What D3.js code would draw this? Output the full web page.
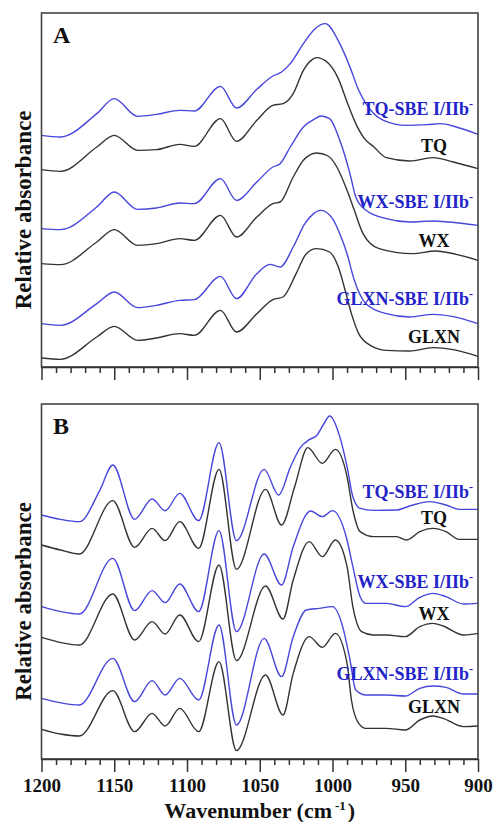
<!DOCTYPE html>
<html>
<head>
<meta charset="utf-8">
<script src="https://cdn.jsdelivr.net/npm/d3@7"></script>
<style>
    body { margin: 0; background: #fff; }
    svg text { font-family: "Liberation Serif", "Times New Roman", serif; font-weight: bold; }
</style>
</head>
<body>
<svg id="fig" width="493" height="822"></svg>
<script>
"use strict";

// ---- data (wavenumber cm-1, relative absorbance) ----

const xTicks = [1200, 1150, 1100, 1050, 1000, 950, 900];
const panelLetters = ["A", "B"];
const sampleNames = ["TQ", "WX", "GLXN"];
const sbeSuffix = "-SBE I/IIb";

// Panel A
const aTQSBE = [[1200,6.95],[1187,6.90],[1162,7.60],[1150,8.05],[1134,7.52],[1121,7.58],[1105,7.70],[1095,7.68],
    [1077,8.42],[1066,7.77],[1052,8.33],[1041,8.73],[1035,8.85],[1029,9.10],[1020,9.70],[1012,10.15],[1005,10.30],
    [995,9.70],[988,9.00],[982,8.30],[977,7.90],[965,7.40],[949,7.25],[935,7.27],[926,7.30],[915,7.20],[900,6.98]];
const aTQ = [[1200,5.92],[1187,5.87],[1162,6.60],[1150,6.95],[1134,6.50],[1121,6.52],[1105,6.68],[1095,6.62],
    [1077,7.45],[1066,6.77],[1052,7.40],[1041,7.85],[1034,7.90],[1027,8.20],[1020,8.90],[1014,9.22],[1011,9.28],
    [1003,9.12],[996,8.65],[990,7.95],[984,7.30],[978,6.85],[972,6.62],[963,6.28],[947,6.18],[931,6.28],[917,6.15],[900,5.95]];
const aWXSBE = [[1200,4.15],[1187,4.12],[1162,4.80],[1150,5.25],[1134,4.73],[1121,4.77],[1105,4.92],[1095,4.90],
    [1077,5.65],[1066,5.00],[1052,5.55],[1041,6.00],[1036,6.10],[1029,6.60],[1020,7.20],[1012,7.45],[1008,7.53],
    [1002,7.45],[995,6.80],[988,5.80],[984,5.10],[977,4.70],[963,4.45],[947,4.35],[931,4.38],[920,4.35],[900,4.25]];
const aWX = [[1200,3.10],[1187,3.07],[1162,3.75],[1150,4.12],[1134,3.65],[1121,3.70],[1105,3.85],[1095,3.80],
    [1077,4.55],[1066,3.90],[1052,4.50],[1041,4.90],[1036,4.95],[1027,5.70],[1020,6.20],[1011,6.42],[1003,6.33],
    [997,6.00],[990,5.30],[985,4.70],[979,4.00],[968,3.55],[945,3.40],[929,3.48],[915,3.38],[900,3.20]];
const aGLXNSBE = [[1200,1.30],[1187,1.25],[1162,1.90],[1150,2.25],[1134,1.78],[1121,1.85],[1105,2.00],[1095,2.02],
    [1077,2.72],[1066,2.05],[1052,2.80],[1043,3.08],[1036,3.00],[1027,3.60],[1019,4.30],[1013,4.60],[1008,4.70],
    [1000,4.45],[995,4.00],[990,3.40],[985,2.60],[977,1.90],[963,1.60],[947,1.50],[931,1.58],[918,1.52],[900,1.30]];
const aGLXN = [[1200,0.27],[1187,0.23],[1162,0.90],[1150,1.22],[1134,0.80],[1121,0.87],[1105,1.00],[1095,0.95],
    [1077,1.70],[1066,1.05],[1052,1.60],[1041,2.02],[1034,2.10],[1025,2.80],[1018,3.40],[1011,3.55],[1002,3.45],
    [996,3.00],[991,2.25],[987,1.60],[982,1.00],[974,0.65],[963,0.50],[947,0.48],[931,0.58],[917,0.52],[900,0.32]];

// Panel B
const bTQSBE = [[1200,7.32],[1187,7.19],[1174,7.12],[1160,8.05],[1151,8.82],[1136,7.19],[1124,7.80],[1115,7.45],
    [1105,7.97],[1092,7.15],[1078,9.49],[1066,6.55],[1047,8.69],[1037,7.92],[1029,8.75],[1022,9.35],[1016,9.58],
    [1011,9.70],[1006,10.05],[1002,10.29],[995,9.67],[990,8.77],[986,7.87],[981,7.52],[972,7.46],[956,7.47],
    [947,7.59],[933,7.72],[922,7.62],[913,7.49],[900,7.49]];
const bTQ = [[1200,6.42],[1187,6.27],[1174,6.15],[1151,7.75],[1136,6.35],[1124,6.92],[1115,6.55],[1105,7.12],
    [1092,6.32],[1078,8.69],[1066,5.69],[1046,8.09],[1035,7.02],[1026,8.17],[1017,9.34],[1007,8.87],[998,9.29],
    [990,8.47],[986,7.47],[981,6.82],[972,6.67],[956,6.67],[949,6.57],[940,6.82],[931,6.92],[922,6.82],[913,6.59],[900,6.59]];
const bWXSBE = [[1200,4.57],[1174,4.35],[1151,6.02],[1136,4.45],[1124,5.05],[1115,4.69],[1105,5.25],[1092,4.42],
    [1078,6.85],[1066,3.82],[1047,6.15],[1035,5.22],[1027,6.37],[1015,7.44],[1007,7.27],[1000,7.45],[990,6.57],
    [986,5.77],[981,4.87],[977,4.67],[963,4.67],[950,4.57],[940,4.85],[931,4.97],[922,4.87],[910,4.65],[900,4.67]];
const bWX = [[1200,3.65],[1174,3.42],[1151,4.95],[1136,3.57],[1124,4.12],[1115,3.75],[1105,4.32],[1092,3.52],
    [1078,5.82],[1066,2.95],[1046,5.19],[1034,4.20],[1027,5.37],[1016,6.52],[1007,6.07],[998,6.57],[990,5.77],
    [986,4.57],[980,3.82],[972,3.72],[963,3.72],[950,3.67],[940,3.97],[931,4.07],[924,3.99],[910,3.72],[900,3.77]];
const bGLXNSBE = [[1200,1.82],[1174,1.62],[1151,3.02],[1136,1.72],[1124,2.35],[1115,1.92],[1105,2.42],[1092,1.77],
    [1078,4.02],[1066,1.02],[1047,3.62],[1035,2.47],[1027,3.67],[1018,4.47],[1009,4.52],[1000,4.57],[993,3.97],
    [988,2.97],[984,2.07],[977,1.92],[963,1.92],[950,1.89],[940,2.12],[931,2.19],[922,2.15],[910,1.95],[900,1.95]];
const bGLXN = [[1200,0.89],[1187,0.75],[1174,0.69],[1151,2.05],[1136,0.82],[1124,1.37],[1115,0.99],[1105,1.52],
    [1092,0.82],[1078,2.92],[1066,0.25],[1046,2.52],[1034,1.32],[1027,2.57],[1016,3.67],[1007,3.35],[998,3.77],
    [990,2.87],[987,1.77],[982,1.07],[977,0.92],[963,0.92],[950,0.87],[940,1.17],[931,1.29],[924,1.22],[910,0.97],[900,0.99]];

// ---- layout ----

var FIG = {};

FIG.left = 41.5;
FIG.right = 478;
FIG.blue = "#4646dc";
FIG.blueText = "#2323c8";
FIG.dark = "#333";

FIG.x = d3.scaleLinear().domain([1200, 900]).range([FIG.left, FIG.right]);

FIG.panels = [
    {
        letter: panelLetters[0], top: 13, bottom: 367, ymax: 10.62,
        series: [aTQSBE, aTQ, aWXSBE, aWX, aGLXNSBE, aGLXN],
        labelY: [115, 152, 208, 247, 305, 343],
        tickLabels: false
    },
    {
        letter: panelLetters[1], top: 404, bottom: 759, ymax: 10.65,
        series: [bTQSBE, bTQ, bWXSBE, bWX, bGLXNSBE, bGLXN],
        labelY: [498, 524, 588, 620, 680, 713],
        tickLabels: true
    }
];

FIG.drawPanel = function(svg, p)
{
    let y = d3.scaleLinear().domain([0, p.ymax]).range([p.bottom, p.top]);
    let g = svg.append("g");

    let line = d3.line()
        .x((d) => FIG.x(d[0]))
        .y((d) => y(d[1]))
        .curve(d3.curveMonotoneX);

    // curves: even index = SBE (blue), odd = native (dark)
    g.selectAll("path.curve")
        .data(p.series)
        .enter()
        .append("path")
        .attr("class", "curve")
        .attr("d", line)
        .attr("fill", "none")
        .attr("stroke", (d, i) => i % 2 === 0 ? FIG.blue : FIG.dark)
        .attr("stroke-width", 1.4);

    // frame
    g.append("rect")
        .attr("x", FIG.left)
        .attr("y", p.top)
        .attr("width", FIG.right - FIG.left)
        .attr("height", p.bottom - p.top)
        .attr("fill", "none")
        .attr("stroke", "#444")
        .attr("stroke-width", 1.6);

    // bottom axis, ticks pointing out
    let minor = d3.range(1200, 899, -10).filter((v) => xTicks.indexOf(v) < 0);
    g.append("g")
        .attr("transform", "translate(0," + p.bottom + ")")
        .call(d3.axisBottom(FIG.x).tickValues(minor).tickSize(6).tickFormat(""))
        .call((a) => a.select(".domain").remove())
        .selectAll("line").attr("stroke", "#333").attr("stroke-width", 1.5);

    let major = g.append("g")
        .attr("transform", "translate(0," + p.bottom + ")")
        .call(d3.axisBottom(FIG.x).tickValues(xTicks).tickSize(13).tickSizeOuter(0).tickPadding(7)
            .tickFormat(p.tickLabels ? d3.format("d") : ""));
    major.select(".domain").attr("stroke", "#333").attr("stroke-width", 1.6);
    major.selectAll("line").attr("stroke", "#333").attr("stroke-width", 1.5);
    major.selectAll("text")
        .attr("font-size", 19)
        .attr("fill", "#111")
        .attr("font-family", "Liberation Serif, serif")
        .attr("font-weight", "bold");

    // panel letter
    g.append("text")
        .attr("x", 53)
        .attr("y", p.top + 30)
        .attr("font-size", 24)
        .attr("fill", "#111")
        .text(p.letter);

    // y title
    g.append("text")
        .attr("transform", "translate(31," + ((p.top + p.bottom) / 2 + 20) + ") rotate(-90)")
        .attr("text-anchor", "middle")
        .attr("font-size", 23)
        .attr("fill", "#111")
        .text("Relative absorbance");

    // sample labels
    sampleNames.forEach((name, k) => {
        let t = g.append("text")
            .attr("x", 473)
            .attr("y", p.labelY[2 * k])
            .attr("text-anchor", "end")
            .attr("font-size", 18)
            .attr("fill", FIG.blueText);
        t.append("tspan").text(name + sbeSuffix);
        t.append("tspan").attr("font-size", 12).attr("dy", -7).text("-");

        g.append("text")
            .attr("x", 434)
            .attr("y", p.labelY[2 * k + 1])
            .attr("text-anchor", "middle")
            .attr("font-size", 18)
            .attr("fill", "#111")
            .text(name);
    });
};

(function () {
    let svg = d3.select("#fig");

    FIG.panels.forEach((p) => FIG.drawPanel(svg, p));

    // x axis title
    let t = svg.append("text")
        .attr("x", (FIG.left + FIG.right) / 2)
        .attr("y", 818)
        .attr("text-anchor", "middle")
        .attr("font-size", 22)
        .attr("fill", "#111");
    t.append("tspan").text("Wavenumber (cm");
    t.append("tspan").attr("font-size", 13).attr("dy", -8).attr("dx", 3).text("-1");
    t.append("tspan").attr("dy", 8).attr("dx", 2).text(")");
}());
</script>
</body>
</html>
